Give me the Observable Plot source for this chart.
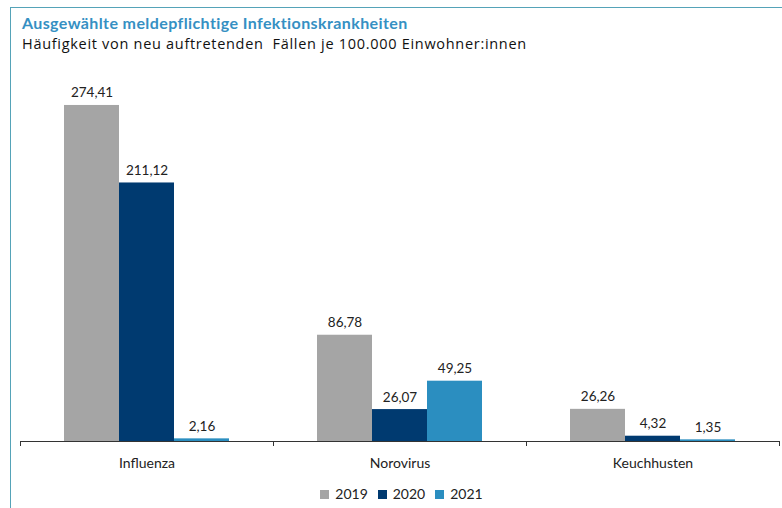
<!DOCTYPE html>
<html><head><meta charset="utf-8">
<script src="https://cdn.jsdelivr.net/npm/d3@7"></script>
<script src="https://cdn.jsdelivr.net/npm/@observablehq/plot@0.6"></script>
<style>
body{margin:0;background:#fff;font-family:Lato, "Open Sans", sans-serif;}
#wrap{position:relative;width:782px;height:508px;overflow:hidden;background:#fff;}
#border{position:absolute;left:10px;top:7px;right:-2px;bottom:-2px;border-top:1.5px solid #55a3b8;border-left:1.5px solid #55a3b8;}
#title{position:absolute;left:22px;top:15px;line-height:16px;font-weight:bold;font-size:16px;letter-spacing:0.4px;color:#3590c3;white-space:nowrap;}
#subtitle{position:absolute;left:22px;top:37px;line-height:14px;font-family:"Open Sans", sans-serif;font-size:14.5px;letter-spacing:0.7px;color:#111;white-space:nowrap;}
#chart{position:absolute;left:0;top:62px;}
#legend{position:absolute;left:0;width:803px;top:485px;text-align:center;font-size:14px;color:#222;}
#legend span.item{margin:0 5px;}
#legend span.sw{display:inline-block;width:9px;height:9px;margin-right:6px;vertical-align:0px;}
</style></head>
<body><div id="wrap">
<div id="border"></div>
<div id="title">Ausgewählte meldepflichtige Infektionskrankheiten</div>
<div id="subtitle">Häufigkeit von neu auftretenden&nbsp; Fällen je 100.000 Einwohner:innen</div>
<div id="chart"></div>
<div id="legend"></div>
</div>
<script>
const categories = ["Influenza", "Norovirus", "Keuchhusten"];
const years = ["2019", "2020", "2021"];
const values2019 = [274.41, 86.78, 26.26];
const values2020 = [211.12, 26.07, 4.32];
const values2021 = [2.16, 49.25, 1.35];
const colors = ["#a5a5a5", "#003a70", "#2b8ec0"];

const series = [values2019, values2020, values2021];
const rows = [];
categories.forEach((c, i) => years.forEach((y, j) => rows.push({cat: c, year: y, value: series[j][i]})));

const de = d3.formatLocale({decimal: ",", thousands: ".", grouping: [3], currency: ["", "€"]});
const fmt = de.format(".2f");

const W = 782, ML = 20, MR = 3;
const step = (W - ML - MR) / categories.length;

const chart = Plot.plot({
  width: W, height: 418,
  marginLeft: ML, marginRight: MR, marginTop: 0, marginBottom: 39,
  style: {fontFamily: "Lato, 'Open Sans', sans-serif", fontSize: "13px", color: "#222", background: "transparent"},
  fx: {domain: categories, padding: 0, label: null},
  x: {domain: years, paddingInner: 0, paddingOuter: 0.76, axis: null},
  y: {domain: [0, 309.5], axis: null},
  color: {domain: years, range: colors},
  marks: [
    Plot.barY(rows, {fx: "cat", x: "year", y: "value", fill: "year"}),
    Plot.text(rows, {fx: "cat", x: "year", y: "value", text: d => fmt(d.value), lineAnchor: "bottom", dy: -8, fill: "#222", fontSize: 13.5}),
    Plot.ruleY([0], {stroke: "#333", strokeWidth: 1}),
    Plot.axisFx({anchor: "bottom", tickSize: 0, tickPadding: 17, fontSize: 14, label: null}),
    Plot.axisFx({anchor: "bottom", tickSize: 5, tickFormat: () => "", dx: -step / 2, stroke: "#333", label: null}),
    Plot.axisFx({anchor: "bottom", ticks: [categories[categories.length - 1]], tickSize: 5, tickFormat: () => "", dx: step / 2, stroke: "#333", label: null})
  ]
});
document.getElementById("chart").appendChild(chart);

const legend = document.getElementById("legend");
years.forEach((y, i) => {
  const it = document.createElement("span");
  it.className = "item";
  it.innerHTML = `<span class="sw" style="background:${colors[i]}"></span>${y}`;
  legend.appendChild(it);
});
</script>
</body></html>
